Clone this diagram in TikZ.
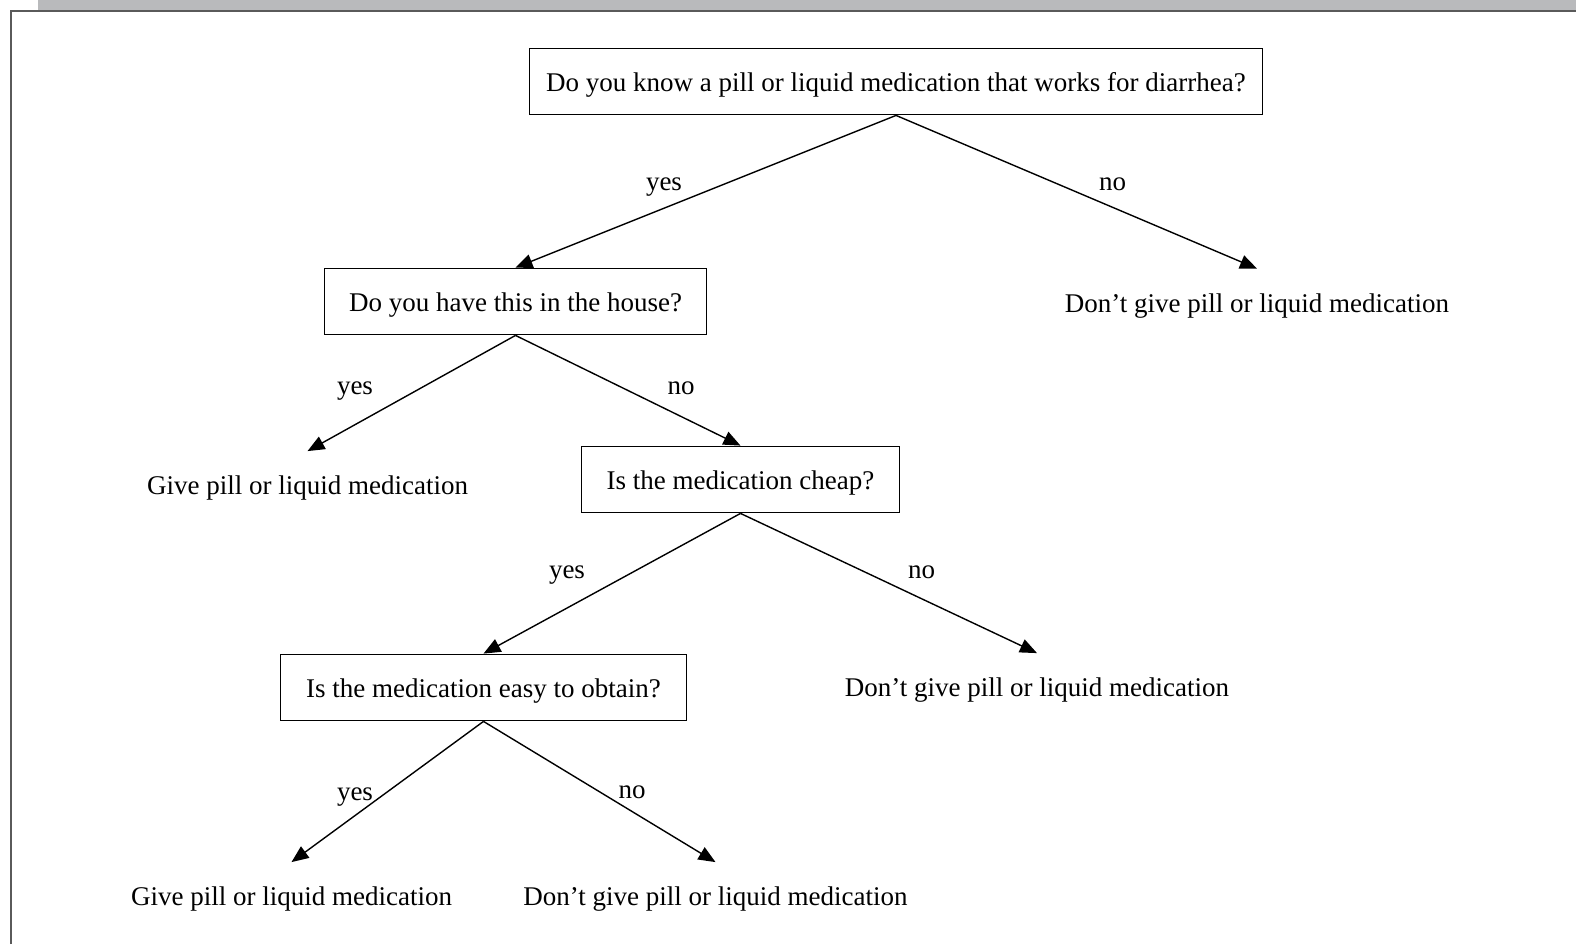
\documentclass[tikz,border=0pt]{standalone}
\usepackage{fontspec}
\setmainfont{Liberation Serif}
\usepackage{xcolor}
\usetikzlibrary{arrows.meta}

\definecolor{bargray}{RGB}{185,186,188}
\definecolor{framegray}{RGB}{90,90,90}

\begin{document}
\begin{tikzpicture}[
        x=0.5pt, y=-0.5pt,
        every node/.style={font=\fontsize{13.5}{16}\selectfont},
        box/.style={draw, line width=0.9pt, rectangle, minimum height=33pt, inner xsep=8pt, text height=10pt, text depth=0pt, align=center},
        leaf/.style={rectangle, minimum height=33pt, inner sep=0pt, text height=10pt, text depth=0pt},
        arr/.style={line width=0.7pt, -{Triangle[length=8.5pt, width=7pt]}},
        answer/.style={inner sep=1pt, text height=6pt, text depth=0pt}
    ]
    \useasboundingbox (0,0) rectangle (1576,944);

    % page frame
    \fill[bargray] (38,0) rectangle (1576,10);
    \draw[framegray, line width=1pt] (11,944) -- (11,11) -- (1576,11);

    % questions
    \node[box, minimum width=366.5pt] (pill) at (896,81.5) {Do you know a pill or liquid medication that works for diarrhea?};
    \node[box, minimum width=191pt] (house) at (515.5,301.5) {Do you have this in the house?};
    \node[box, minimum width=159pt] (cheap) at (740.5,479.5) {Is the medication cheap?};
    \node[box, minimum width=203pt] (obtain) at (483.5,687.5) {Is the medication easy to obtain?};

    % outcomes
    \node[leaf] (nopill) at (1257,302) {Don't give pill or liquid medication};
    \node[leaf] (givehouse) at (307.5,484.5) {Give pill or liquid medication};
    \node[leaf] (nocheap) at (1037,686.5) {Don't give pill or liquid medication};
    \node[leaf] (giveobtain) at (291.5,895.5) {Give pill or liquid medication};
    \node[leaf] (noobtain) at (715.5,895.5) {Don't give pill or liquid medication};

    \draw[arr] (pill.south) -- (house.north);
    \draw[arr] (pill.south) -- (nopill.north);
    \draw[arr] (house.south) -- (givehouse.north);
    \draw[arr] (house.south) -- (cheap.north);
    \draw[arr] (cheap.south) -- (obtain.north);
    \draw[arr] (cheap.south) -- (nocheap.north);
    \draw[arr] (obtain.south) -- (giveobtain.north);
    \draw[arr] (obtain.south) -- (noobtain.north);

    % yes / no
    \node[answer] (yes1) at (664,184) {yes};
    \node[answer] (no1) at (1112.5,184) {no};
    \node[answer] (yes2) at (355,388) {yes};
    \node[answer] (no2) at (681,388) {no};
    \node[answer] (yes3) at (567,572) {yes};
    \node[answer] (no3) at (921.5,572) {no};
    \node[answer] (yes4) at (355,794) {yes};
    \node[answer] (no4) at (632,792) {no};

\end{tikzpicture}
\end{document}
